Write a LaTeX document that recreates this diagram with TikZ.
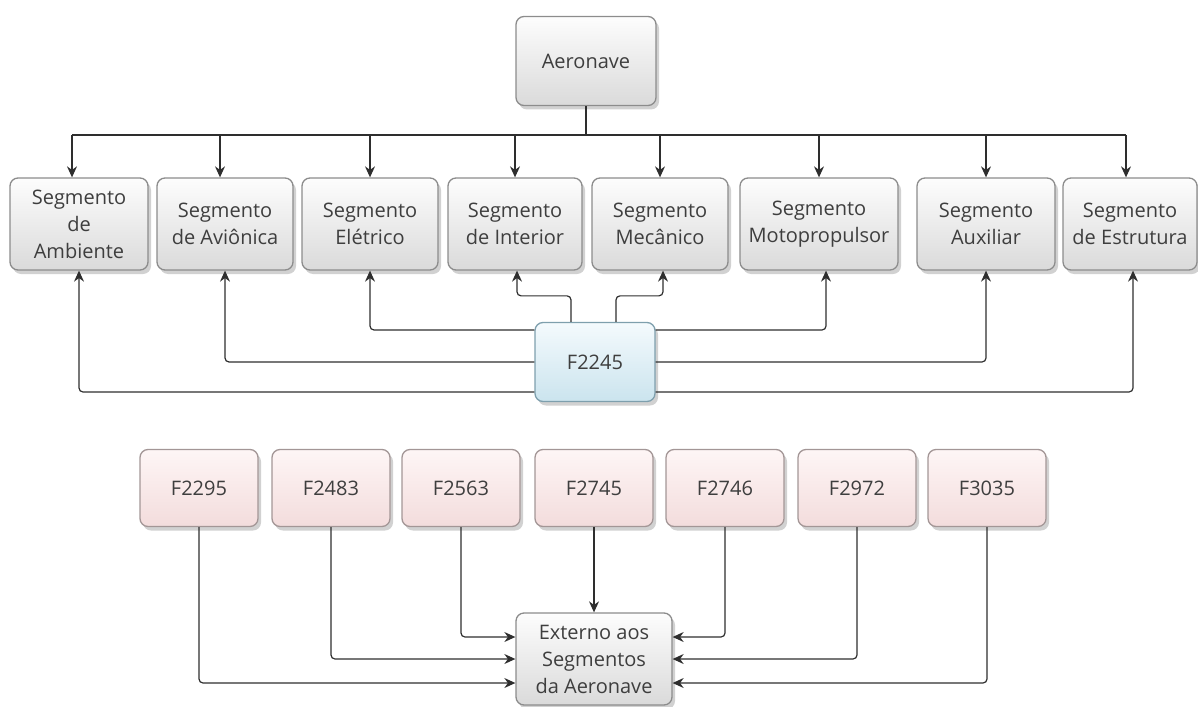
\documentclass[tikz,border=0pt]{standalone}
\usepackage{fontspec}
\setmainfont{Open Sans}
\usetikzlibrary{arrows.meta,shadows}
\definecolor{edgegray}{HTML}{8C8C8C}
\definecolor{txtgray}{HTML}{3E3E3E}
\definecolor{wire}{HTML}{2E2E2E}
\definecolor{grayhi}{HTML}{FDFDFD}
\definecolor{graylo}{HTML}{DADADA}
\definecolor{bluehi}{HTML}{F4FAFD}
\definecolor{bluelo}{HTML}{CBE4EE}
\definecolor{blueedge}{HTML}{7E9FAD}
\definecolor{pinkhi}{HTML}{FEF6F6}
\definecolor{pinklo}{HTML}{F3DCDC}
\definecolor{pinkedge}{HTML}{A39696}
\tikzset{
  box/.style={draw=edgegray, line width=1.3pt, rounded corners=8pt,
    top color=grayhi, bottom color=graylo,
    drop shadow={shadow xshift=3pt, shadow yshift=-4pt, opacity=0.18, fill=black},
    font=\fontsize{20}{27}\selectfont, text=txtgray, align=center,
    inner sep=0pt, minimum height=92pt},
  hub/.style={box, draw=blueedge, top color=bluehi, bottom color=bluelo,
    minimum width=120pt, minimum height=79pt},
  req/.style={box, draw=pinkedge, top color=pinkhi, bottom color=pinklo,
    minimum width=118pt, minimum height=77pt},
  wire/.style={draw=wire, line width=1.2pt, rounded corners=4pt},
  arr/.style={wire, -{Stealth[length=11pt,width=10pt]}}
}
\begin{document}
\begin{tikzpicture}[x=1pt,y=-1pt]
\useasboundingbox (0,0) rectangle (1198,706);

% top element
\node[box, minimum width=140pt, minimum height=89pt] (aero) at (586,61) {Aeronave};

% segments
\node[box, minimum width=138pt] (amb) at (79,224) {Segmento\\de\\Ambiente};
\node[box, minimum width=136pt] (avi) at (225,224) {Segmento\\de Aviônica};
\node[box, minimum width=136pt] (ele) at (370,224) {Segmento\\Elétrico};
\node[box, minimum width=134pt] (int) at (515,224) {Segmento\\de Interior};
\node[box, minimum width=136pt] (mec) at (660,224) {Segmento\\Mecânico};
\node[box, minimum width=158pt] (mot) at (819,224) {Segmento\\Motopropulsor};
\node[box, minimum width=138pt] (aux) at (986,224) {Segmento\\Auxiliar};
\node[box, minimum width=134pt] (est) at (1130,224) {Segmento\\de Estrutura};

% distribution bus
\coordinate (bus) at (586,135);
\draw[wire] (aero.south) -- (bus);
\draw[wire] ([xshift=-7pt]amb.north |- bus) -- ([xshift=-4pt]est.north |- bus);
\draw[arr] ([xshift=-7pt]amb.north |- bus) -- ([xshift=-7pt]amb.north);
\draw[arr] ([xshift=-5pt]avi.north |- bus) -- ([xshift=-5pt]avi.north);
\draw[arr] (ele.north |- bus) -- (ele.north);
\draw[arr] (int.north |- bus) -- (int.north);
\draw[arr] (mec.north |- bus) -- (mec.north);
\draw[arr] (mot.north |- bus) -- (mot.north);
\draw[arr] (aux.north |- bus) -- (aux.north);
\draw[arr] ([xshift=-4pt]est.north |- bus) -- ([xshift=-4pt]est.north);

% shared function
\node[hub] (f45) at (595,362) {F2245};
\draw[arr] ([xshift=-24pt]f45.north) -- ++(0,-26) -| ([xshift=2pt]int.south);
\draw[arr] ([xshift=21pt]f45.north) -- ++(0,-26) -| ([xshift=3pt]mec.south);
\draw[arr] ([yshift=32pt]f45.west) -| (ele.south);
\draw[arr] ([yshift=32pt]f45.east) -| ([xshift=7pt]mot.south);
\draw[arr] (f45.west) -| (avi.south);
\draw[arr] (f45.east) -| (aux.south);
\draw[arr] ([yshift=-30pt]f45.west) -| (amb.south);
\draw[arr] ([yshift=-30pt]f45.east) -| ([xshift=3pt]est.south);

% external functions
\node[req] (f95) at (199,488) {F2295};
\node[req] (f83) at (331,488) {F2483};
\node[req] (f63) at (461,488) {F2563};
\node[req] (f745) at (594,488) {F2745};
\node[req] (f746) at (725,488) {F2746};
\node[req] (f72) at (857,488) {F2972};
\node[req] (f35) at (987,488) {F3035};

\node[box, minimum width=156pt, minimum height=92pt] (ext) at (594,659) {Externo aos\\Segmentos\\da Aeronave};

\draw[arr] (f95.south) |- ([yshift=-24pt]ext.west);
\draw[arr] (f83.south) |- (ext.west);
\draw[arr] (f63.south) |- ([yshift=22pt]ext.west);
\draw[arr] (f745.south) -- (ext.north);
\draw[arr] (f746.south) |- ([yshift=22pt]ext.east);
\draw[arr] (f72.south) |- (ext.east);
\draw[arr] (f35.south) |- ([yshift=-24pt]ext.east);
\end{tikzpicture}
\end{document}
